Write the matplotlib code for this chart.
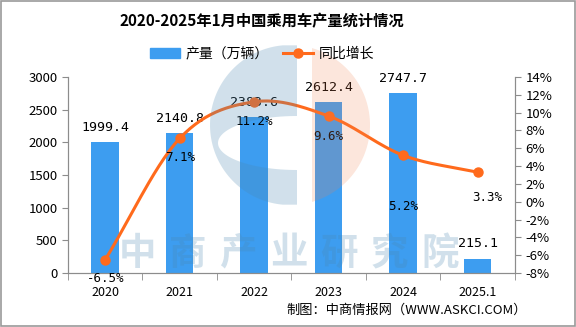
import matplotlib.pyplot as plt
import numpy as np
from matplotlib.lines import Line2D
from matplotlib.patches import Patch, PathPatch
from matplotlib.path import Path

plt.rcParams['font.family'] = ['Noto Sans CJK SC', 'DejaVu Sans']

years = ['2020', '2021', '2022', '2023', '2024', '2025.1']
output = [1999.4, 2140.8, 2383.6, 2612.4, 2747.7, 215.1]
growth = [-6.5, 7.1, 11.2, 9.6, 5.2, 3.3]
# where the growth labels sit, in pixels from their marker (dx, down)
growth_label_shift = [(0, 19), (0, 19), (0, 20), (0, 20), (0, 51), (10, 25)]

bar_color = '#3d9df0'
line_color = '#ff6a1c'
grey = '#8c8c8c'


def catmull_rom(x, y, n=30):
    # smooth the drawn line through the data points
    x = np.asarray(x, float)
    y = np.asarray(y, float)
    px = np.concatenate([[2 * x[0] - x[1]], x, [2 * x[-1] - x[-2]]])
    py = np.concatenate([[2 * y[0] - y[1]], y, [2 * y[-1] - y[-2]]])
    xs, ys = [], []
    for i in range(1, len(px) - 2):
        t = np.linspace(0, 1, n)
        for p, out in ((px, xs), (py, ys)):
            p0, p1, p2, p3 = p[i - 1], p[i], p[i + 1], p[i + 2]
            out.extend(0.5 * (2 * p1 + (-p0 + p2) * t
                              + (2 * p0 - 5 * p1 + 4 * p2 - p3) * t ** 2
                              + (-p0 + 3 * p1 - 3 * p2 + p3) * t ** 3))
    return np.array(xs), np.array(ys)


fig = plt.figure(figsize=(5.76, 3.27), dpi=100)
ax = fig.add_axes([0.118, 0.165, 0.776, 0.600])
ax2 = ax.twinx()

x = np.arange(len(years))
ax.bar(x, output, width=0.37, color=bar_color, zorder=2)
for xi, v in zip(x, output):
    ax.annotate(f'{v}', (xi, v), xytext=(0, 15), textcoords='offset pixels',
                ha='center', va='center', fontsize=9.5, family='DejaVu Sans Mono')

ax.set_xlim(-0.5, len(years) - 0.5)
ax.set_ylim(0, 3000)
ax.set_yticks(range(0, 3001, 500))
ax.set_xticks(x)
ax.set_xticklabels(years)
ax.set_xticks(np.arange(-0.5, len(years), 1), minor=True)
ax.tick_params(axis='x', which='major', length=0, labelsize=9, pad=9)
ax.tick_params(axis='x', which='minor', length=5, color=grey)
ax.tick_params(axis='y', length=4, color=grey, labelsize=9.5)

sx, sy = catmull_rom(x, growth)
ax2.plot(sx, sy, color=line_color, lw=2.2, zorder=3)
ax2.plot(x, growth, 'o', color=line_color, ms=6.5, zorder=4)
for xi, g, (dx, dy) in zip(x, growth, growth_label_shift):
    ax2.annotate(f'{g}%', (xi, g), xytext=(dx, -dy), textcoords='offset pixels',
                 ha='center', va='center', fontsize=9, family='DejaVu Sans Mono')
ax2.set_ylim(-8, 14)
ax2.set_yticks(range(-8, 15, 2))
ax2.set_yticklabels([f'{t}%' for t in range(-8, 15, 2)])
ax2.tick_params(axis='y', length=4, color=grey, labelsize=9.5)

for a in (ax, ax2):
    a.spines['top'].set_visible(False)
    for s in ('left', 'right', 'bottom'):
        a.spines[s].set_color(grey)

# watermark, drawn over the plot and semi-transparent
wm = fig.add_axes([0, 0, 1, 1], zorder=5)
wm.set_xlim(0, 576)
wm.set_ylim(327, 0)
wm.axis('off')
cx, cy, r = 290, 125, 80
# blue "C": left part of the disc with an oval bite out of it
a_out = np.linspace(np.pi / 2 + 0.09, 3 * np.pi / 2 - 0.09, 80)
outer = np.column_stack([cx + r * np.cos(a_out), cy - r * np.sin(a_out)])
outer = np.vstack([[297, outer[0, 1]], outer, [297, outer[-1, 1]]])
a_in = np.linspace(3 * np.pi / 2, np.pi / 2, 60)
inner = np.column_stack([297 + 79 * np.cos(a_in), 143 - 27 * np.sin(a_in)])
verts = np.vstack([outer, outer[:1], inner, inner[:1]])
codes = ([Path.MOVETO] + [Path.LINETO] * (len(outer) - 1) + [Path.CLOSEPOLY]
         + [Path.MOVETO] + [Path.LINETO] * (len(inner) - 1) + [Path.CLOSEPOLY])
wm.add_patch(PathPatch(Path(verts, codes), facecolor='#4a87b0', edgecolor='none', alpha=0.25))
# orange part: right cap of the disc
h = np.arccos((312 - cx) / r)
a_or = np.linspace(h, -h, 60)
cap = np.column_stack([cx + r * np.cos(a_or), cy - r * np.sin(a_or)])
wm.add_patch(plt.Polygon(cap, closed=True, facecolor='#f08250', edgecolor='none', alpha=0.2))
for i, ch in enumerate('中商产业研究院'):
    wm.text(137 + i * 50.5, 253, ch, fontsize=27, color='#4a87b0', alpha=0.25,
            ha='center', va='center', fontweight='bold')

fig.text(0.455, 0.935, '2020-2025年1月中国乘用车产量统计情况', ha='center', va='center',
         fontsize=11, fontweight='bold')
handles = [Patch(color=bar_color, label='产量（万辆）'),
           Line2D([], [], color=line_color, lw=2.2, marker='o', ms=6.5, label='同比增长')]
fig.legend(handles=handles, loc='center', bbox_to_anchor=(0.455, 0.835), ncol=2,
           frameon=False, fontsize=10, handlelength=2.2, columnspacing=1.0,
           handletextpad=0.4)
fig.text(0.915, 0.05, '制图：中商情报网（WWW.ASKCI.COM）', ha='right', va='center',
         fontsize=9.5)

# outer frame
fig.patches.append(plt.Rectangle((0.002, 0.003), 0.996, 0.994, transform=fig.transFigure,
                                 fill=False, edgecolor='#9a9a9a', lw=1.2))

fig.savefig('out.png', dpi=100)
